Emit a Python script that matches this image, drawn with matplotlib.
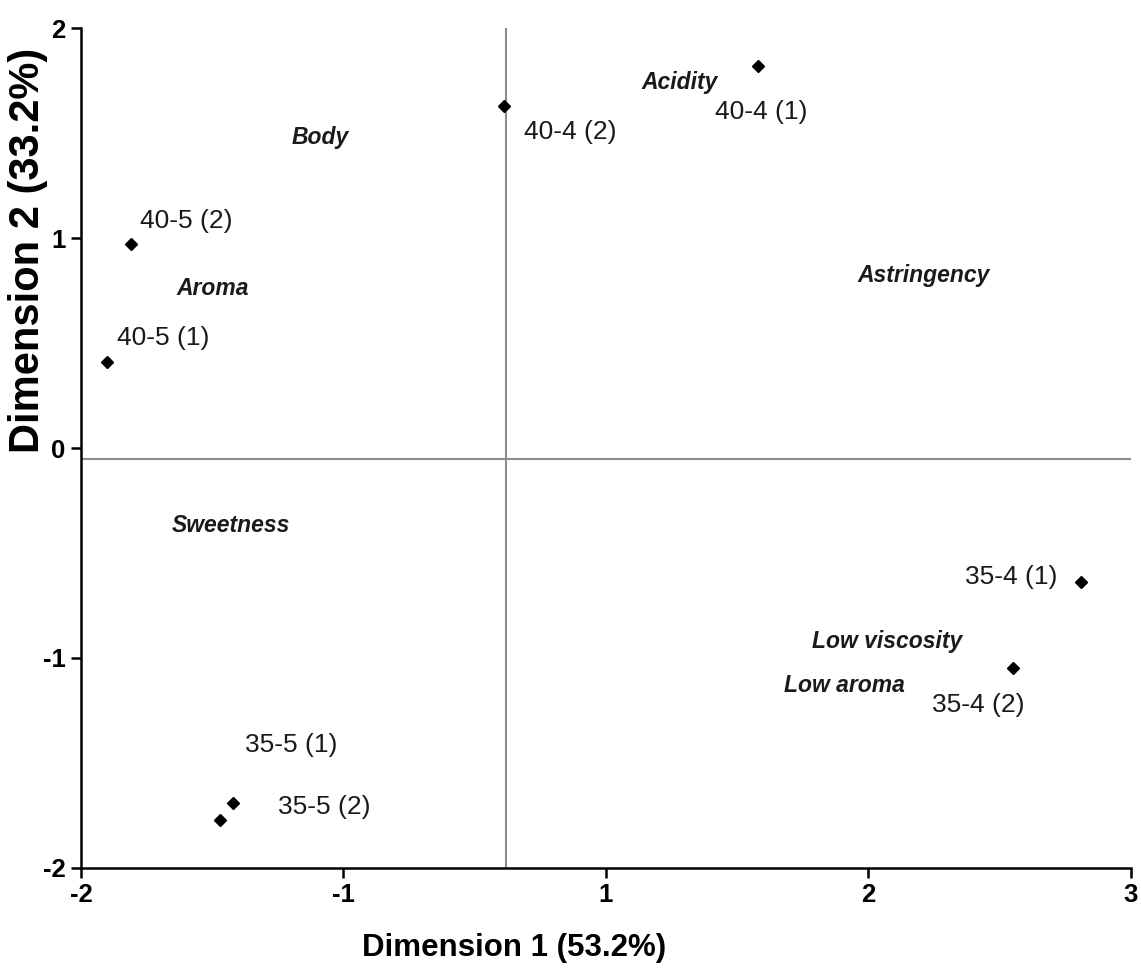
import matplotlib
matplotlib.use("Agg")
import matplotlib.pyplot as plt

# ── Dados ──────────────────────────────────────────────
# amostras (coordenadas no eixo; rótulos do eixo x seguem a figura original)
amostras = ["40-4 (2)", "40-4 (1)", "40-5 (2)", "40-5 (1)",
            "35-5 (1)", "35-5 (2)", "35-4 (1)", "35-4 (2)"]
dim1 = [-0.39, 0.58, -1.81, -1.90, -1.42, -1.47, 1.81, 1.55]
dim2 = [1.63, 1.82, 0.97, 0.41, -1.69, -1.77, -0.64, -1.05]

atributos = ["Body", "Acidity", "Aroma", "Astringency", "Sweetness",
             "Low viscosity", "Low aroma"]
atr_dim1 = [-1.09, 0.28, -1.50, 1.21, -1.43, 1.07, 0.91]
atr_dim2 = [1.48, 1.74, 0.76, 0.82, -0.37, -0.92, -1.13]

centro_x = -0.38
centro_y = -0.05

xticks = [-2, -1, 0, 1, 2]
xtick_labels = ["-2", "-1", "1", "2", "3"]
yticks = [-2, -1, 0, 1, 2]
ytick_labels = ["-2", "-1", "0", "1", "2"]

# deslocamento dos rótulos (pontos)
offsets = [(48, -19), (2, -33), (40, 17), (40, 17),
           (42, 42), (75, 9), (-50, 4), (-25, -26)]

plt.rcParams["font.family"] = ["Liberation Sans", "DejaVu Sans"]

fig = plt.figure(figsize=(11.41, 9.73), dpi=100)
ax = fig.add_axes([0.071, 0.108, 0.92, 0.863])

ax.axvline(centro_x, color="#8c8c8c", lw=1.5, zorder=1)
ax.axhline(centro_y, color="#8c8c8c", lw=1.5, zorder=1)

ax.plot(dim1, dim2, ls="none", marker="D", color="black", markersize=6.5, zorder=3)

for nome, x, y, off in zip(amostras, dim1, dim2, offsets):
    ax.annotate(nome, (x, y), xytext=off, textcoords="offset points",
                ha="center", va="center", fontsize=19, color="#1a1a1a")

for nome, x, y in zip(atributos, atr_dim1, atr_dim2):
    ax.text(x, y, nome, ha="center", va="center", fontsize=16.5,
            fontweight="bold", fontstyle="italic", color="#1a1a1a")

ax.set_xlim(-2, 2)
ax.set_ylim(-2, 2)
ax.set_xticks(xticks)
ax.set_xticklabels(xtick_labels, fontweight="bold")
ax.set_yticks(yticks)
ax.set_yticklabels(ytick_labels, fontweight="bold")

for lado in ["top", "right"]:
    ax.spines[lado].set_visible(False)
for lado in ["left", "bottom"]:
    ax.spines[lado].set_linewidth(1.8)
ax.tick_params(axis="both", direction="out", length=7, width=1.8,
               labelsize=18.5, pad=4)

ax.set_xlabel("Dimension 1 (53.2%)", fontsize=22.5, fontweight="bold")
ax.xaxis.set_label_coords(0.413, -0.078)
ax.set_ylabel("Dimension 2 (33.2%)", fontsize=30, fontweight="bold")
ax.yaxis.set_label_coords(-0.031, 0.735)

fig.savefig("out.png", dpi=100)
